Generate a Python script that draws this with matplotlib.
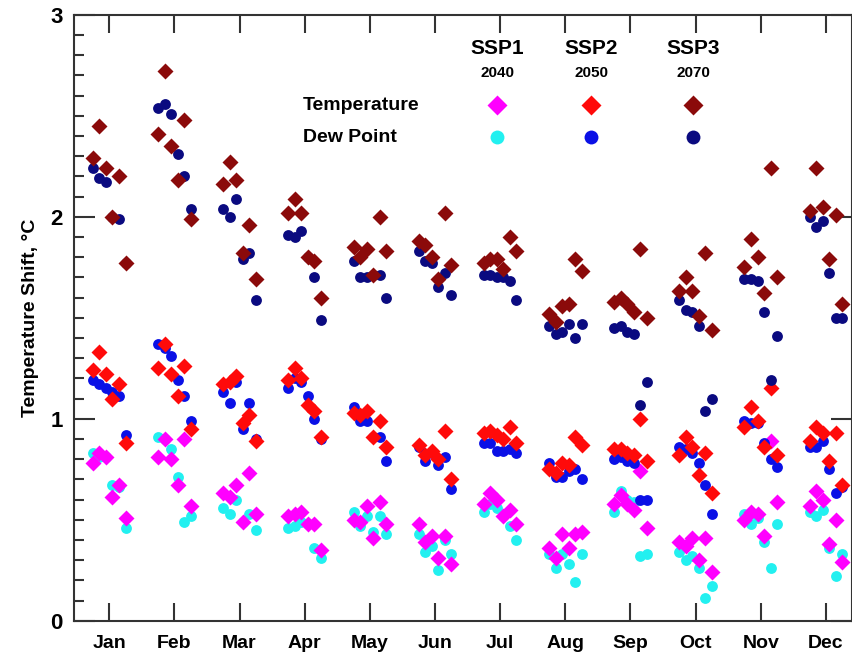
import numpy as np
import matplotlib
matplotlib.use("Agg")
import matplotlib.pyplot as plt
from matplotlib.ticker import MultipleLocator

plt.rcParams['font.family'] = ['Liberation Sans', 'DejaVu Sans']
plt.rcParams['font.weight'] = 'bold'

# Data: 12 months x 6 stations
MONTHS = ['Jan', 'Feb', 'Mar', 'Apr', 'May', 'Jun',
          'Jul', 'Aug', 'Sep', 'Oct', 'Nov', 'Dec']
STATION_OFFSETS = [-0.25, -0.15, -0.05, 0.05, 0.15, 0.25]

ssp1_temp = [
    [0.78, 0.83, 0.81, 0.61, 0.67, 0.51],
    [0.81, 0.90, 0.80, 0.67, 0.90, 0.57],
    [0.63, 0.61, 0.67, 0.49, 0.73, 0.53],
    [0.52, 0.53, 0.54, 0.48, 0.48, 0.35],
    [0.50, 0.49, 0.57, 0.41, 0.59, 0.48],
    [0.48, 0.39, 0.42, 0.31, 0.42, 0.28],
    [0.58, 0.63, 0.60, 0.52, 0.55, 0.48],
    [0.36, 0.31, 0.43, 0.36, 0.43, 0.44],
    [0.58, 0.62, 0.58, 0.55, 0.74, 0.46],
    [0.39, 0.37, 0.41, 0.30, 0.41, 0.24],
    [0.50, 0.54, 0.53, 0.42, 0.89, 0.59],
    [0.57, 0.64, 0.60, 0.38, 0.50, 0.29],
]
ssp1_dew = [
    [0.83, 0.81, 0.81, 0.67, 0.66, 0.46],
    [0.91, 0.90, 0.85, 0.71, 0.49, 0.52],
    [0.56, 0.53, 0.60, 0.49, 0.53, 0.45],
    [0.46, 0.47, 0.49, 0.48, 0.36, 0.31],
    [0.54, 0.47, 0.52, 0.44, 0.52, 0.43],
    [0.43, 0.34, 0.37, 0.25, 0.40, 0.33],
    [0.54, 0.58, 0.56, 0.52, 0.47, 0.40],
    [0.33, 0.26, 0.33, 0.28, 0.19, 0.33],
    [0.54, 0.64, 0.60, 0.59, 0.32, 0.33],
    [0.34, 0.30, 0.32, 0.26, 0.11, 0.17],
    [0.53, 0.48, 0.51, 0.39, 0.26, 0.48],
    [0.54, 0.52, 0.55, 0.36, 0.22, 0.33],
]
ssp2_temp = [
    [1.24, 1.33, 1.22, 1.10, 1.17, 0.88],
    [1.25, 1.37, 1.22, 1.11, 1.26, 0.95],
    [1.17, 1.18, 1.21, 0.98, 1.02, 0.89],
    [1.19, 1.25, 1.20, 1.07, 1.04, 0.91],
    [1.03, 1.02, 1.04, 0.91, 0.99, 0.86],
    [0.87, 0.82, 0.84, 0.80, 0.94, 0.70],
    [0.93, 0.94, 0.92, 0.90, 0.96, 0.88],
    [0.75, 0.73, 0.78, 0.77, 0.91, 0.87],
    [0.85, 0.85, 0.83, 0.82, 1.00, 0.79],
    [0.82, 0.91, 0.86, 0.72, 0.83, 0.63],
    [0.96, 1.06, 0.99, 0.86, 1.15, 0.82],
    [0.89, 0.96, 0.93, 0.79, 0.93, 0.67],
]
ssp2_dew = [
    [1.19, 1.17, 1.15, 1.13, 1.11, 0.92],
    [1.37, 1.35, 1.31, 1.19, 1.11, 0.99],
    [1.13, 1.08, 1.18, 0.95, 1.08, 0.90],
    [1.15, 1.20, 1.18, 1.11, 1.00, 0.90],
    [1.06, 0.99, 0.99, 0.91, 0.91, 0.79],
    [0.86, 0.79, 0.83, 0.77, 0.81, 0.65],
    [0.88, 0.88, 0.84, 0.84, 0.85, 0.83],
    [0.78, 0.71, 0.71, 0.74, 0.75, 0.70],
    [0.80, 0.81, 0.79, 0.78, 0.60, 0.60],
    [0.86, 0.85, 0.83, 0.78, 0.67, 0.53],
    [0.99, 0.98, 0.98, 0.88, 0.80, 0.76],
    [0.86, 0.86, 0.89, 0.75, 0.63, 0.66],
]
ssp3_temp = [
    [2.29, 2.45, 2.24, 2.00, 2.20, 1.77],
    [2.41, 2.72, 2.35, 2.18, 2.48, 1.99],
    [2.16, 2.27, 2.18, 1.82, 1.96, 1.69],
    [2.02, 2.09, 2.02, 1.80, 1.78, 1.60],
    [1.85, 1.80, 1.84, 1.71, 2.00, 1.83],
    [1.88, 1.86, 1.80, 1.69, 2.02, 1.76],
    [1.77, 1.79, 1.79, 1.74, 1.90, 1.83],
    [1.52, 1.48, 1.56, 1.57, 1.79, 1.73],
    [1.58, 1.60, 1.57, 1.53, 1.84, 1.50],
    [1.63, 1.70, 1.63, 1.51, 1.82, 1.44],
    [1.75, 1.89, 1.80, 1.62, 2.24, 1.70],
    [2.03, 2.24, 2.05, 1.79, 2.01, 1.57],
]
ssp3_dew = [
    [2.24, 2.19, 2.17, 2.00, 1.99, 1.77],
    [2.54, 2.56, 2.51, 2.31, 2.20, 2.04],
    [2.04, 2.00, 2.09, 1.79, 1.82, 1.59],
    [1.91, 1.90, 1.93, 1.80, 1.70, 1.49],
    [1.78, 1.70, 1.70, 1.71, 1.71, 1.60],
    [1.83, 1.78, 1.77, 1.65, 1.72, 1.61],
    [1.71, 1.71, 1.70, 1.70, 1.68, 1.59],
    [1.46, 1.42, 1.43, 1.47, 1.40, 1.47],
    [1.45, 1.46, 1.43, 1.42, 1.07, 1.18],
    [1.59, 1.54, 1.53, 1.46, 1.04, 1.10],
    [1.69, 1.69, 1.68, 1.53, 1.19, 1.41],
    [2.00, 1.95, 1.98, 1.72, 1.50, 1.50],
]

SCENARIOS = ['SSP1', 'SSP2', 'SSP3']
YEARS = ['2040', '2050', '2070']
TEMP_COLORS = ['#ff00ff', '#ff0a0a', '#8b0a0a']
DEW_COLORS = ['#22f0f0', '#0a10e6', '#0a0a80']

fig = plt.figure(figsize=(8.53, 6.54), dpi=100)
ax = fig.add_axes([0.0868, 0.0509, 0.912, 0.9266])

month_pos = np.arange(1, 13)
x = (month_pos[:, None] + np.array(STATION_OFFSETS)[None, :]).ravel()

series = [(ssp1_dew, ssp1_temp), (ssp2_dew, ssp2_temp), (ssp3_dew, ssp3_temp)]
for i, (dew, temp) in enumerate(series):
    ax.plot(x, np.array(dew).ravel(), 'o', color=DEW_COLORS[i], ms=7.8,
            mec='none', zorder=2 + 2 * i)
    ax.plot(x, np.array(temp).ravel(), 'D', color=TEMP_COLORS[i], ms=8.3,
            mec='none', zorder=3 + 2 * i)

# legend drawn as a small table in axes coordinates
leg_x = [0.544, 0.665, 0.796]
for i in range(3):
    ax.text(leg_x[i], 0.945, SCENARIOS[i], transform=ax.transAxes,
            ha='center', va='center', fontsize=15, fontweight='bold')
    ax.text(leg_x[i], 0.904, YEARS[i], transform=ax.transAxes,
            ha='center', va='center', fontsize=11, fontweight='bold')
    ax.plot(leg_x[i], 0.851, 'D', color=TEMP_COLORS[i], ms=10, mec='none',
            transform=ax.transAxes, clip_on=False)
    ax.plot(leg_x[i], 0.798, 'o', color=DEW_COLORS[i], ms=10, mec='none',
            transform=ax.transAxes, clip_on=False)
ax.text(0.294, 0.851, 'Temperature', transform=ax.transAxes,
        ha='left', va='center', fontsize=14, fontweight='bold')
ax.text(0.294, 0.798, 'Dew Point', transform=ax.transAxes,
        ha='left', va='center', fontsize=14, fontweight='bold')

ax.set_xlim(0.46, 12.4)
ax.set_ylim(0, 3)
ax.set_xticks(month_pos)
ax.set_xticklabels(MONTHS, fontsize=14, fontweight='bold')
ax.set_yticks([0, 1, 2, 3])
ax.set_yticklabels(['0', '1', '2', '3'], fontsize=16, fontweight='bold')
ax.yaxis.set_minor_locator(MultipleLocator(0.1))
ax.tick_params(axis='x', which='major', direction='in', length=13, width=1.5,
               top=True, bottom=True, pad=10, colors='#333333',
               labelcolor='black')
ax.tick_params(axis='y', which='major', direction='in', length=15, width=1.5,
               left=True, right=True, pad=8, colors='#333333',
               labelcolor='black')
ax.tick_params(axis='y', which='minor', direction='in', length=7, width=1.5,
               left=True, right=False, colors='#333333')
for sp in ax.spines.values():
    sp.set_linewidth(1.5)
    sp.set_color('#333333')

ax.set_ylabel('Temperature Shift, °C', fontsize=14, fontweight='bold',
              labelpad=8)

fig.savefig('out.png', dpi=100)
